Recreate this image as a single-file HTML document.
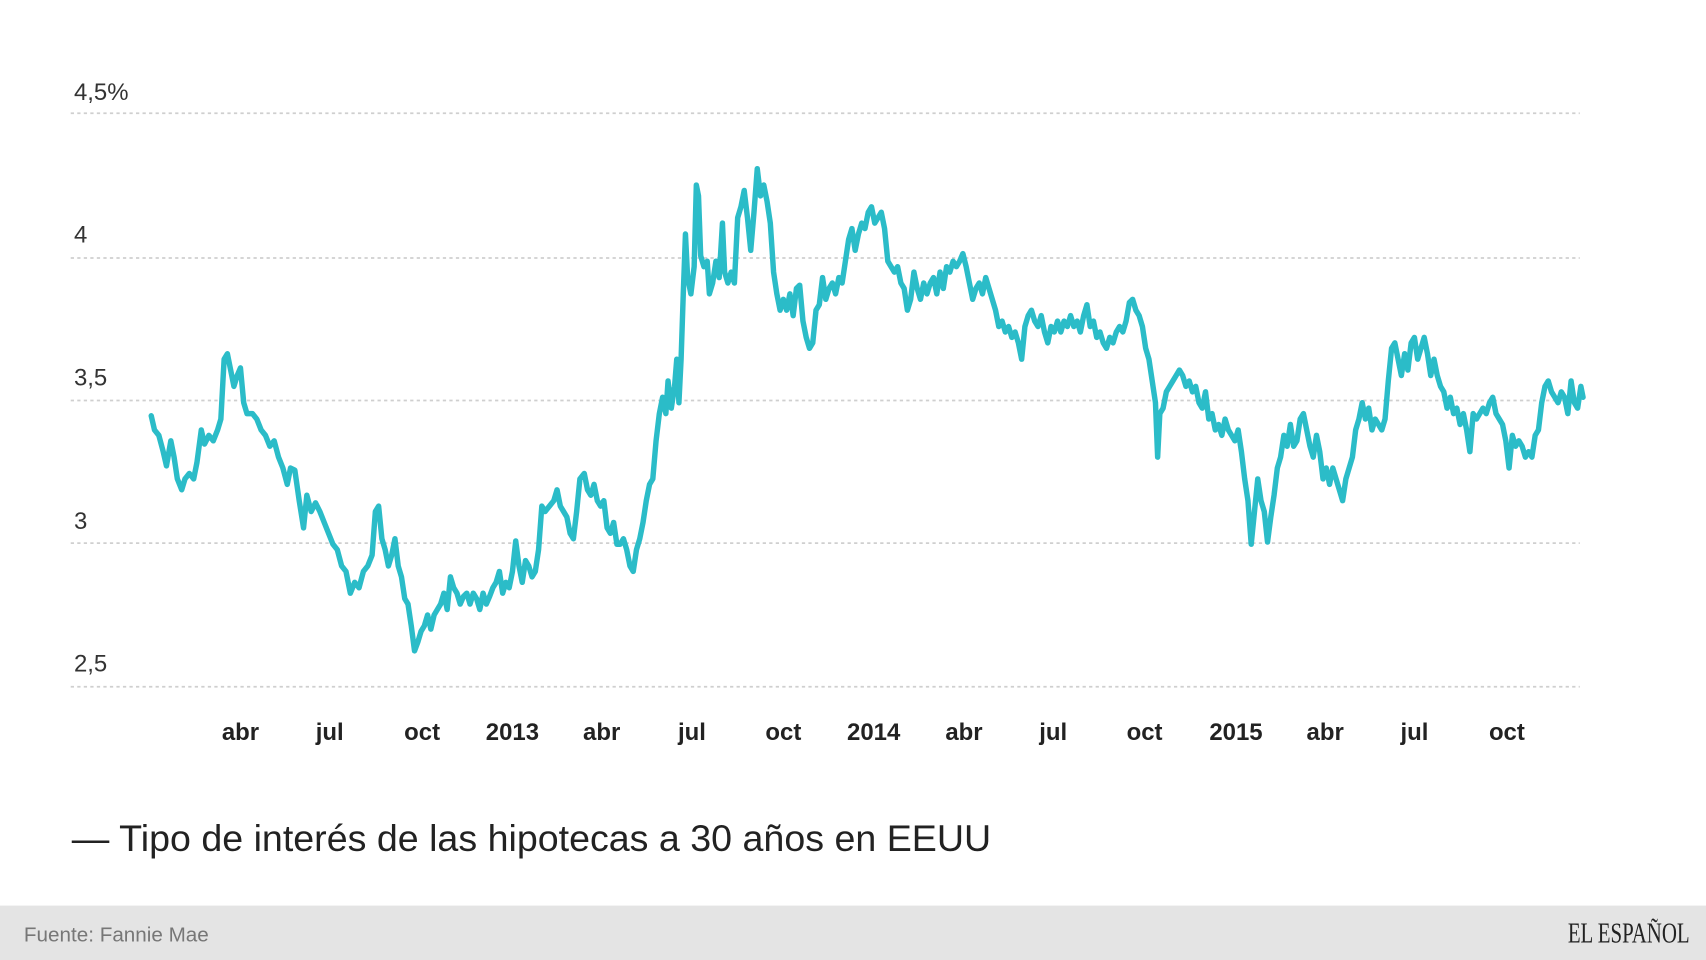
<!DOCTYPE html>
<html><head><meta charset="utf-8"><style>html,body{margin:0;padding:0;background:#fff}svg{display:block}</style></head>
<body>
<svg width="1706" height="960" viewBox="0 0 1568 882" preserveAspectRatio="none" xmlns="http://www.w3.org/2000/svg">
<rect x="0" y="0" width="1568" height="882" fill="#fff"/>
<rect x="0" y="832" width="1568" height="50" fill="#e4e4e4"/>
<g stroke="#cfcfcf" stroke-width="1.6" stroke-dasharray="3,3">
<line x1="65" y1="104" x2="1452" y2="104"/>
<line x1="65" y1="237" x2="1452" y2="237"/>
<line x1="65" y1="368" x2="1452" y2="368"/>
<line x1="65" y1="499" x2="1452" y2="499"/>
<line x1="65" y1="631" x2="1452" y2="631"/>
</g>
<g font-family="Liberation Sans, sans-serif" font-size="22" fill="#333">
<text x="68" y="92">4,5%</text>
<text x="68" y="223">4</text>
<text x="68" y="354">3,5</text>
<text x="68" y="486">3</text>
<text x="68" y="617">2,5</text>
</g>
<g font-family="Liberation Sans, sans-serif" font-size="22" font-weight="bold" fill="#222" text-anchor="middle">
<text x="221" y="680">abr</text><text x="303" y="680">jul</text><text x="388" y="680">oct</text><text x="471" y="680">2013</text>
<text x="553" y="680">abr</text><text x="636" y="680">jul</text><text x="720" y="680">oct</text><text x="803" y="680">2014</text>
<text x="886" y="680">abr</text><text x="968" y="680">jul</text><text x="1052" y="680">oct</text><text x="1136" y="680">2015</text>
<text x="1218" y="680">abr</text><text x="1300" y="680">jul</text><text x="1385" y="680">oct</text>
</g>
<polyline fill="none" stroke="#2bbcc8" stroke-width="5" stroke-linejoin="round" stroke-linecap="round" points="139,382 142,395 146,400 150,415 153,428 157,405 160,420 163,440 167,450 170,440 174,435 178,440 181,425 185,395 188,408 192,400 196,405 200,395 203,385 206,330 209,325 212,340 215,355 218,345 221,338 224,370 227,380 232,380 236,385 240,395 244,400 248,410 252,405 256,420 260,430 264,445 267,430 271,432 275,460 279,485 282,455 286,470 290,462 294,470 298,480 302,490 306,500 310,505 314,520 318,525 322,545 326,535 330,540 334,525 338,520 342,510 345,470 348,465 351,495 354,505 357,520 360,510 363,495 366,520 369,530 372,550 375,555 378,575 381,598 384,590 387,580 390,575 393,565 396,578 399,565 402,560 405,555 408,545 411,560 414,530 417,540 420,545 423,555 426,548 429,545 432,555 435,545 438,550 441,560 444,545 447,555 450,548 453,540 456,535 459,525 462,545 465,535 468,540 471,525 474,497 477,520 480,535 483,515 486,520 489,530 492,525 495,505 498,465 501,470 505,465 509,460 512,450 515,465 518,470 521,475 524,490 527,495 530,470 533,440 537,435 540,450 543,455 546,445 549,460 552,465 555,460 558,485 561,490 564,480 567,500 570,500 573,495 576,505 579,520 582,525 585,505 588,495 591,480 594,460 597,445 600,440 603,405 606,380 609,365 612,380 614,350 617,375 620,355 622,330 624,370 626,330 628,270 630,215 632,255 635,270 638,245 640,170 642,180 644,235 647,245 650,240 652,270 655,260 658,240 661,255 664,205 666,250 669,260 672,250 675,260 678,200 681,190 684,175 687,200 690,230 693,195 696,155 699,180 702,170 705,185 708,205 711,250 714,270 717,285 720,275 723,285 726,270 729,290 732,265 735,262 738,295 741,310 744,320 747,315 750,285 753,280 756,255 759,275 762,265 765,260 768,270 771,255 774,260 777,240 780,220 783,210 786,230 789,215 792,205 795,210 798,195 801,190 804,205 807,200 810,195 813,210 816,240 819,245 822,250 825,245 828,260 831,265 834,285 837,275 840,250 843,265 846,275 849,260 852,270 855,260 858,255 861,270 864,250 867,265 870,245 873,250 876,240 879,245 882,240 885,233 888,245 891,260 894,275 897,265 900,260 903,270 906,255 909,265 912,275 915,285 918,300 921,295 924,305 927,300 930,310 933,305 936,315 939,330 942,300 945,290 948,285 951,295 954,300 957,290 960,305 963,315 966,300 969,305 972,295 975,305 978,295 981,300 984,290 987,300 990,295 993,305 996,290 999,280 1002,300 1005,295 1008,310 1011,305 1014,315 1017,320 1020,310 1023,315 1026,305 1029,300 1032,305 1035,295 1038,278 1041,275 1044,285 1047,290 1050,300 1053,320 1056,330 1059,350 1062,370 1064,420 1066,380 1069,375 1072,360 1075,355 1078,350 1081,345 1084,340 1087,345 1090,355 1093,350 1096,360 1099,355 1102,370 1105,375 1108,360 1111,385 1114,380 1117,395 1120,390 1123,400 1126,385 1129,395 1132,400 1135,405 1138,395 1141,415 1144,440 1147,460 1150,500 1153,470 1156,440 1159,460 1162,470 1165,498 1168,475 1171,455 1174,430 1177,420 1180,400 1183,410 1186,390 1189,410 1192,405 1195,385 1198,380 1201,395 1204,410 1207,420 1210,400 1213,415 1216,440 1219,430 1222,445 1225,430 1228,440 1231,450 1234,460 1237,440 1240,430 1243,420 1246,395 1249,385 1252,370 1255,385 1258,375 1261,395 1264,385 1267,390 1270,395 1273,385 1276,350 1279,320 1282,315 1285,330 1288,345 1291,325 1294,340 1297,315 1300,310 1303,330 1306,320 1309,310 1312,325 1315,345 1318,330 1321,345 1324,355 1327,360 1330,375 1333,365 1336,380 1339,375 1342,390 1345,380 1348,395 1351,415 1354,380 1357,385 1360,380 1363,375 1366,380 1369,370 1372,365 1375,380 1378,385 1381,390 1384,405 1387,430 1390,400 1393,410 1396,405 1399,410 1402,420 1405,415 1408,420 1411,400 1414,395 1417,370 1420,355 1423,350 1426,360 1429,365 1432,370 1435,360 1438,365 1441,380 1444,350 1447,370 1450,375 1453,355 1455,365"/>
<text x="66" y="782" font-family="Liberation Sans, sans-serif" font-size="34" fill="#222" textLength="845" lengthAdjust="spacingAndGlyphs">— Tipo de interés de las hipotecas a 30 años en EEUU</text>
<text x="22" y="865" font-family="Liberation Sans, sans-serif" font-size="19" fill="#777">Fuente: Fannie Mae</text>
<text x="1553" y="866" text-anchor="end" font-family="Liberation Serif, serif" font-size="26" fill="#222" textLength="112" lengthAdjust="spacingAndGlyphs">EL ESPAÑOL</text>
</svg>
</body></html>
